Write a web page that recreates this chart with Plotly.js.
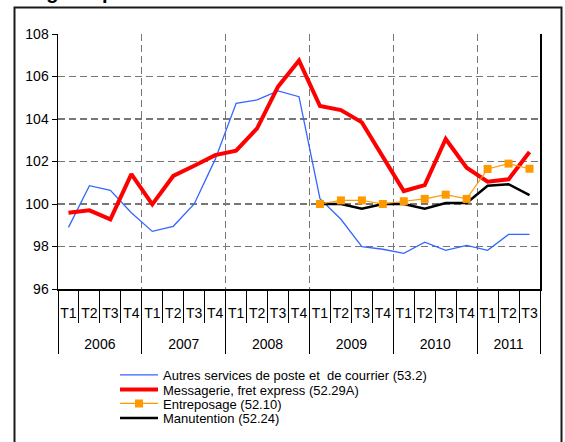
<!DOCTYPE html>
<html>
<head>
<meta charset="utf-8">
<script src="https://cdn.plot.ly/plotly-3.0.1.min.js"></script>
<style>html,body{margin:0;padding:0;background:#fff;}#chart{width:565px;height:442px;}</style>
</head>
<body>
<div id="chart"></div>
<script>
const years = ['2006','2006','2006','2006','2007','2007','2007','2007','2008','2008','2008','2008','2009','2009','2009','2009','2010','2010','2010','2010','2011','2011','2011'];
const quarters = ['T1','T2','T3','T4','T1','T2','T3','T4','T1','T2','T3','T4','T1','T2','T3','T4','T1','T2','T3','T4','T1','T2','T3'];
const autres = [98.9,100.86,100.64,99.59,98.71,98.95,100.0,102.1,104.74,104.9,105.32,105.05,100.25,99.28,97.99,97.87,97.68,98.2,97.82,98.05,97.82,98.57,98.57];
const messagerie = [99.59,99.7,99.28,101.41,99.98,101.32,101.8,102.3,102.51,103.56,105.52,106.75,104.61,104.42,103.84,102.23,100.61,100.89,103.06,101.71,101.05,101.16,102.45];
const entreposage = [null,null,null,null,null,null,null,null,null,null,null,null,100.0,100.17,100.17,100.0,100.13,100.24,100.44,100.24,101.65,101.9,101.66];
const manutention = [null,null,null,null,null,null,null,null,null,null,null,null,100.0,100.0,99.78,100.0,100.0,99.78,100.05,100.05,100.86,100.93,100.42];
const names = ['Autres services de poste et  de courrier (53.2)','Messagerie, fret express (52.29A)','Entreposage (52.10)','Manutention (52.24)'];

// derived from the arrays above
const periods = years.map((y, i) => y + ' ' + quarters[i]);
const n = periods.length;
const yearList = [...new Set(years)];
const yearCenters = yearList.map(y => { const idx = years.map((v,i)=>v===y?i:-1).filter(i=>i>=0); return (idx[0] + idx[idx.length-1]) / 2; });
const yearBounds = [-0.5].concat(yearList.map(y => years.lastIndexOf(y) + 0.5));

const traces = [
  {x:[], y:[], xaxis:'x2', yaxis:'y', type:'scatter', mode:'lines', showlegend:false, hoverinfo:'skip'},
  {x:periods, y:autres, name:names[0], type:'scatter', mode:'lines', line:{color:'#3366FF', width:1.3}, legend:'legend'},
  {x:periods, y:messagerie, name:names[1], type:'scatter', mode:'lines', line:{color:'#FF0000', width:4}, legend:'legend2'},
  {x:periods, y:manutention, name:names[3], type:'scatter', mode:'lines', line:{color:'#000000', width:2.5}, legend:'legend4'},
  {x:periods, y:entreposage, name:names[2], type:'scatter', mode:'lines+markers', line:{color:'#FF9900', width:1.2}, marker:{symbol:'square', size:8, color:'#FF9900'}, legend:'legend3'}
];

const legFont = {family:'Arial, Liberation Sans, sans-serif', size:13, color:'#000'};
function leg(py){ return {x:(115-58)/482, xanchor:'left', y:(289-py)/255, yanchor:'middle', font:legFont, bgcolor:'rgba(0,0,0,0)', borderwidth:0, itemwidth:38}; }

const layout = {
  width:565, height:442,
  margin:{l:58, r:25, t:34, b:153, autoexpand:false},
  paper_bgcolor:'#fff', plot_bgcolor:'#fff',
  font:{family:'Arial, Liberation Sans, sans-serif', color:'#000'},
  showlegend:true,
  legend:leg(375), legend2:leg(389.5), legend3:leg(403.5), legend4:leg(418),
  xaxis:{type:'category', range:[-0.5, n-0.5], tickvals:periods, ticktext:quarters, tickson:'boundaries', ticks:'outside', ticklen:32,
         tickcolor:'#000', tickwidth:1, tickangle:0, ticklabelstandoff:11,
         showline:true, linecolor:'#000', linewidth:1.5, showgrid:false, zeroline:false,
         tickfont:{size:14, color:'#000'}},
  xaxis2:{overlaying:'x', side:'bottom', type:'linear', range:[-0.5, n-0.5], tickvals:yearCenters, ticktext:yearList, ticks:'', tickangle:0,
          ticklabelstandoff:45, showgrid:false, showline:false, zeroline:false, tickfont:{size:14, color:'#000'},
          minor:{tickvals:yearBounds, ticks:'outside', ticklen:64, tickcolor:'#000', tickwidth:1, showgrid:true, gridcolor:'#777', griddash:'7px,4px', gridwidth:1.2}},
  yaxis:{range:[96,108], tickvals:[96,98,100,102,104,106,108], ticks:'outside', ticklen:5, tickcolor:'#000',
         showline:true, mirror:true, linecolor:'#000', linewidth:1.5, showgrid:true, gridcolor:'#777', griddash:'7px,4px', gridwidth:1.2,
         zeroline:false, tickfont:{size:14, color:'#000'}},
  shapes:[{type:'rect', xref:'paper', yref:'paper', x0:(14.5-58)/482, x1:(561.5-58)/482, y0:-0.8, y1:(289-7.5)/255, line:{color:'#1a1a1a', width:2}}],
  annotations:[{text:'<b>Léger repli</b>', xref:'paper', yref:'paper', x:(21-58)/482, xanchor:'left', y:(289-5)/255, yanchor:'bottom', showarrow:false, font:{size:20, color:'#000'}}]
};
Plotly.newPlot('chart', traces, layout, {displayModeBar:false, staticPlot:true});
</script>
</body>
</html>
